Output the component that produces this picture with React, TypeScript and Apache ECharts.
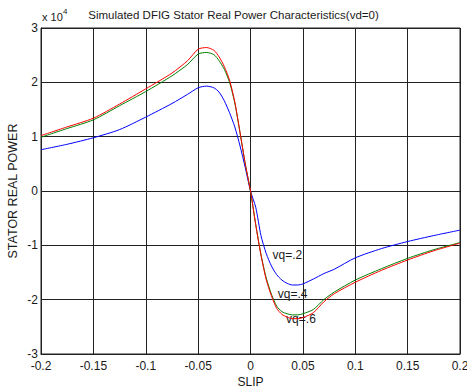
import React, { useEffect, useRef } from "react";
import * as echarts from "echarts";

// Slip values (x axis)
const slip = [
  -0.2, -0.175, -0.15, -0.125, -0.1, -0.075, -0.06, -0.05, -0.042, -0.035, -0.03, -0.025,
  -0.02, -0.015, -0.01, -0.005, 0, 0.005, 0.01, 0.015, 0.02, 0.025, 0.03, 0.035, 0.04,
  0.045, 0.05, 0.06, 0.07, 0.08, 0.1, 0.125, 0.15, 0.175, 0.2,
];

// Stator real power in units of 10^4
const powerVq2 = [
  0.76, 0.86, 0.98, 1.13, 1.36, 1.61, 1.78, 1.9, 1.93, 1.9, 1.82, 1.66, 1.44, 1.18, 0.83, 0.43,
  0, -0.3, -0.82, -1.15, -1.38, -1.54, -1.64, -1.7, -1.73, -1.73, -1.71, -1.62, -1.52, -1.44,
  -1.23, -1.06, -0.93, -0.82, -0.72,
];
const powerVq4 = [
  0.99, 1.15, 1.31, 1.57, 1.83, 2.12, 2.33, 2.52, 2.55, 2.51, 2.4, 2.24, 2.0, 1.62, 1.07, 0.5,
  0, -0.62, -1.17, -1.6, -1.9, -2.12, -2.22, -2.26, -2.28, -2.28, -2.26, -2.18, -2.0, -1.86,
  -1.64, -1.43, -1.24, -1.08, -0.95,
];
const powerVq6 = [
  1.02, 1.18, 1.34, 1.6, 1.88, 2.17, 2.4, 2.61, 2.64, 2.59, 2.47, 2.29, 2.04, 1.64, 1.08, 0.5,
  0, -0.62, -1.18, -1.63, -1.93, -2.16, -2.27, -2.32, -2.35, -2.35, -2.33, -2.24, -2.04, -1.89,
  -1.68, -1.46, -1.27, -1.1, -0.96,
];

const seriesNames = ["vq=.2", "vq=.4", "vq=.6"];
const seriesColors = ["#0000ff", "#008000", "#ff0000"];
// annotation anchor points (slip, power) for the curve labels
const labelAnchors: [number, number][] = [
  [0.021, -1.18],
  [0.026, -1.9],
  [0.034, -2.36],
];

const titleText = "Simulated DFIG Stator Real Power Characteristics(vd=0)";
const xName = "SLIP";
const yName = "STATOR REAL POWER";

const FONT = "'Liberation Sans', Arial, sans-serif";
const TXT = "#1a1a1a";

export default function App() {
  const ref = useRef<HTMLDivElement>(null);
  useEffect(() => {
    document.body.style.margin = "0";
    if (!ref.current) return;
    const chart = echarts.init(ref.current, null, { renderer: "svg" });
    const allPower = [powerVq2, powerVq4, powerVq6];
    const series = allPower.map((vals, i) => ({
      type: "line",
      name: seriesNames[i],
      data: slip.map((s, k) => [s, vals[k]]),
      showSymbol: false,
      smooth: 0.25,
      lineStyle: { color: seriesColors[i], width: 1 },
      itemStyle: { color: seriesColors[i] },
      z: 3 + i,
      markPoint: {
        symbol: "circle",
        symbolSize: 0,
        silent: true,
        data: [
          {
            coord: labelAnchors[i],
            label: {
              show: true,
              formatter: seriesNames[i],
              position: "right",
              distance: 0,
              color: TXT,
              fontFamily: FONT,
              fontSize: 12,
            },
          },
        ],
      },
    }));
    chart.setOption({
      animation: false,
      backgroundColor: "#ffffff",
      grid: {
        left: 41,
        right: 7,
        top: 28,
        bottom: 34,
        show: true,
        borderColor: "#222",
        borderWidth: 1,
        outerBoundsMode: "none",
        containLabel: false,
      },
      xAxis: {
        type: "value",
        min: -0.2,
        max: 0.2,
        interval: 0.05,
        axisLine: { show: true, onZero: false, lineStyle: { color: "#222", width: 1 } },
        axisTick: { show: false },
        splitLine: { show: true, lineStyle: { color: "#222", width: 1, type: "solid" } },
        axisLabel: {
          color: TXT,
          fontFamily: FONT,
          fontSize: 12,
          margin: 6,
          showMinLabel: true,
          showMaxLabel: true,
          hideOverlap: false,
          formatter: (v: number) => String(parseFloat(v.toFixed(3))),
        },
      },
      yAxis: {
        type: "value",
        min: -3,
        max: 3,
        interval: 1,
        axisLine: { show: true, onZero: false, lineStyle: { color: "#222", width: 1 } },
        axisTick: { show: false },
        splitLine: { show: true, lineStyle: { color: "#222", width: 1, type: "solid" } },
        axisLabel: {
          color: TXT,
          fontFamily: FONT,
          fontSize: 12,
          margin: 3,
          showMinLabel: true,
          showMaxLabel: true,
          formatter: (v: number) => String(Math.round(v)),
        },
      },
      graphic: [
        {
          type: "text",
          left: "center",
          top: 9,
          style: { text: titleText, fill: TXT, font: `11.5px ${FONT}` },
        },
        {
          type: "text",
          x: 42,
          y: 11,
          style: { text: "x 10", fill: TXT, font: `11px ${FONT}` },
        },
        {
          type: "text",
          x: 63,
          y: 7,
          style: { text: "4", fill: TXT, font: `8px ${FONT}` },
        },
        {
          type: "text",
          x: 250.5,
          y: 382,
          style: {
            text: xName,
            fill: TXT,
            font: `12px ${FONT}`,
            align: "center",
            verticalAlign: "middle",
          },
        },
        {
          type: "text",
          x: 12.5,
          y: 191,
          rotation: Math.PI / 2,
          style: {
            text: yName,
            fill: TXT,
            font: `12.5px ${FONT}`,
            align: "center",
            verticalAlign: "middle",
          },
        },
      ],
      series,
    });
    return () => chart.dispose();
  }, []);
  return <div ref={ref} style={{ width: 467, height: 388 }} />;
}
